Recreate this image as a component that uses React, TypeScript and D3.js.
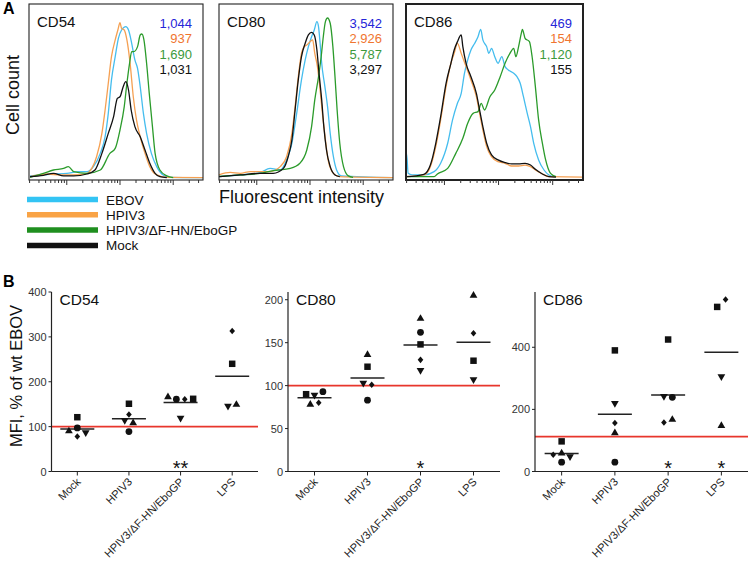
import React from "react";
import * as d3 from "d3";

// ---------- Panel A data: flow histograms, [log10 intensity, % of mode] ----------
const histMarkers = ["CD54", "CD80", "CD86"];
const histSeries = ["EBOV", "HPIV3", "HPIV3/ΔF-HN/EboGP", "Mock"];

const cd54EBOV = [[1.31,1.3],[1.50,1.9],[1.75,2.5],[2.00,2.9],[2.22,4.0],[2.38,4.0],[2.50,7.1],[2.63,15.4],[2.72,25.8],[2.78,40.4],[2.84,61.3],[2.91,75.8],[2.97,87.3],[3.03,92.5],[3.11,94.6],[3.16,92.5],[3.22,84.2],[3.28,73.8],[3.33,68.5],[3.38,57.1],[3.44,40.4],[3.50,27.9],[3.59,15.4],[3.69,7.1],[3.81,1.9],[3.94,0.4],[4.56,0.2]];
const cd54HPIV3 = [[1.31,0.8],[1.63,2.5],[1.88,1.9],[2.13,1.9],[2.38,2.9],[2.47,6.0],[2.56,13.3],[2.66,27.9],[2.72,42.5],[2.78,59.2],[2.84,75.8],[2.91,86.3],[2.96,92.5],[3.00,97.1],[3.03,93.5],[3.08,92.5],[3.13,86.3],[3.19,71.7],[3.25,50.8],[3.31,36.3],[3.38,25.8],[3.47,15.4],[3.56,7.1],[3.69,1.9],[3.88,0.4],[4.56,0.2]];
const cd54DeltaF = [[1.31,0.4],[1.56,2.9],[1.75,5.0],[1.94,6.0],[2.03,7.1],[2.13,4.0],[2.38,2.9],[2.63,5.0],[2.81,15.4],[2.91,18.5],[3.00,30.0],[3.08,44.6],[3.13,59.2],[3.18,71.7],[3.22,79.0],[3.26,79.0],[3.33,82.1],[3.38,89.4],[3.41,90.0],[3.45,86.3],[3.50,71.7],[3.55,52.9],[3.61,32.1],[3.66,15.4],[3.75,5.0],[3.88,1.3],[4.00,0.2]];
const cd54Mock = [[1.31,0.8],[1.56,1.7],[1.75,2.9],[1.94,1.3],[2.13,1.3],[2.38,2.5],[2.53,5.0],[2.66,15.4],[2.78,27.9],[2.88,38.3],[2.95,49.8],[3.00,50.8],[3.06,57.1],[3.11,60.2],[3.16,55.0],[3.21,42.5],[3.28,32.1],[3.38,25.8],[3.47,17.5],[3.56,9.2],[3.66,2.9],[3.75,0.8],[3.88,0.2]];

const cd80EBOV = [[1.29,0.8],[1.69,1.9],[2.06,3.3],[2.25,6.0],[2.44,5.0],[2.56,11.3],[2.66,21.7],[2.75,40.4],[2.84,61.3],[2.91,73.8],[2.97,82.1],[3.03,88.3],[3.08,92.5],[3.13,97.7],[3.16,94.6],[3.19,84.2],[3.22,71.7],[3.28,57.1],[3.33,44.6],[3.38,27.9],[3.44,13.3],[3.50,5.0],[3.59,1.3],[4.56,0.2]];
const cd80HPIV3 = [[1.29,2.0],[1.50,3.5],[1.69,2.9],[1.88,4.0],[2.06,4.0],[2.25,4.0],[2.44,7.1],[2.56,13.3],[2.66,27.9],[2.72,44.6],[2.78,63.3],[2.84,77.9],[2.89,82.1],[2.94,83.1],[3.00,85.2],[3.05,86.3],[3.09,77.9],[3.14,69.6],[3.19,55.0],[3.24,38.3],[3.29,23.8],[3.34,11.3],[3.44,2.9],[3.56,0.8],[4.56,0.2]];
const cd80DeltaF = [[1.29,1.0],[1.69,1.9],[2.06,2.9],[2.31,4.6],[2.63,6.0],[2.81,9.2],[2.94,17.5],[3.03,32.1],[3.09,48.8],[3.16,63.3],[3.21,75.8],[3.25,88.3],[3.29,97.7],[3.33,100],[3.38,96.7],[3.43,82.1],[3.47,63.3],[3.51,42.5],[3.56,21.7],[3.63,7.1],[3.72,1.3],[3.81,0.4]];
const cd80Mock = [[1.29,0.8],[1.69,1.9],[2.06,2.9],[2.31,2.9],[2.50,6.0],[2.59,13.3],[2.66,23.8],[2.72,42.5],[2.78,61.3],[2.84,75.8],[2.91,84.2],[2.97,89.4],[3.03,91.0],[3.08,89.4],[3.13,80.0],[3.17,65.4],[3.22,48.8],[3.26,32.1],[3.31,17.5],[3.38,7.1],[3.47,1.9],[3.56,0.8]];

const cd86EBOV = [[1.29,1.0],[1.30,15.4],[1.33,2.9],[1.40,1.9],[1.62,1.9],[1.81,4.0],[1.93,9.2],[2.06,21.7],[2.15,36.3],[2.24,46.7],[2.31,52.9],[2.37,65.4],[2.43,73.8],[2.49,80.0],[2.56,84.2],[2.62,88.3],[2.67,92.9],[2.71,86.3],[2.78,82.1],[2.82,77.9],[2.87,81.0],[2.93,75.8],[2.99,71.7],[3.06,75.8],[3.12,69.6],[3.18,67.5],[3.28,65.4],[3.34,63.3],[3.40,59.2],[3.46,50.8],[3.53,40.4],[3.59,32.1],[3.65,21.7],[3.74,11.3],[3.84,5.0],[3.93,1.9],[4.03,0.8]];
const cd86HPIV3 = [[1.29,0.8],[1.62,1.9],[1.74,7.1],[1.84,19.6],[1.93,36.3],[2.03,57.1],[2.12,71.7],[2.18,77.9],[2.24,84.2],[2.31,77.9],[2.40,69.6],[2.49,61.3],[2.59,50.8],[2.65,40.4],[2.71,30.0],[2.78,19.6],[2.87,13.3],[2.99,10.2],[3.12,9.2],[3.24,7.5],[3.37,7.5],[3.49,8.1],[3.59,7.1],[3.68,5.0],[3.81,2.5],[3.93,0.8],[4.56,0.6]];
const cd86DeltaF = [[1.29,0.8],[1.81,0.8],[1.87,2.5],[2.06,6.0],[2.21,15.4],[2.34,24.8],[2.43,34.2],[2.53,40.4],[2.62,41.5],[2.68,46.7],[2.74,42.5],[2.84,50.8],[2.93,55.0],[3.03,63.3],[3.12,71.7],[3.21,77.9],[3.28,81.0],[3.32,75.8],[3.37,82.1],[3.42,90.4],[3.44,92.9],[3.49,87.3],[3.57,85.2],[3.62,75.8],[3.68,57.1],[3.74,36.3],[3.81,21.7],[3.87,11.3],[3.96,2.9],[4.06,0.8]];
const cd86Mock = [[1.29,0.8],[1.62,2.3],[1.74,8.1],[1.84,21.7],[1.93,38.3],[2.03,59.2],[2.12,71.7],[2.18,80.0],[2.24,85.2],[2.31,89.4],[2.34,82.1],[2.40,71.7],[2.49,63.3],[2.59,52.9],[2.65,42.5],[2.71,32.1],[2.78,21.7],[2.87,14.4],[2.99,11.3],[3.12,9.6],[3.24,8.8],[3.37,8.8],[3.49,9.2],[3.59,8.1],[3.68,5.4],[3.81,2.5],[3.93,0.8],[4.06,0.6]];

const mfiCD54 = ["1,044", "937", "1,690", "1,031"];
const mfiCD80 = ["3,542", "2,926", "5,787", "3,297"];
const mfiCD86 = ["469", "154", "1,120", "155"];

// ---------- Panel B data: MFI, % of wt EBOV ----------
const groups = ["Mock", "HPIV3", "HPIV3/ΔF-HN/EboGP", "LPS"];
// [shape, value, jitter slot]
const cd54Points = [
  [["square",121,0],["triangle",90,-2],["circle",97,0],["diamond",78,0],["triangleDown",87,2]],
  [["square",151,0],["diamond",127,0],["triangleDown",114,-1],["triangle",108,1],["circle",89,0]],
  [["triangle",166,-3],["circle",161,-1],["diamond",161,1],["square",162,3],["triangleDown",119,0]],
  [["diamond",313,0],["square",240,0],["triangleDown",146,-1],["triangle",149,1]],
];
const cd80Points = [
  [["square",90,-2],["triangleDown",89,0],["circle",93,2],["triangle",78,-1],["diamond",80,1]],
  [["triangle",136,0],["square",122,0],["triangleDown",103,-1],["diamond",101,1],["circle",83,0]],
  [["triangle",178,0],["circle",162,0],["square",148,0],["diamond",130,0],["triangleDown",118,0]],
  [["triangle",205,0],["diamond",161,0],["square",129,0],["triangleDown",107,0]],
];
const cd86Points = [
  [["square",97,0],["diamond",54,-2],["triangle",59,0],["triangleDown",48,2],["circle",30,0]],
  [["square",390,0],["triangleDown",220,0],["diamond",156,0],["triangle",124,0],["circle",30,0]],
  [["square",425,0],["triangleDown",242,-1],["circle",239,1],["diamond",158,-1],["triangle",167,1]],
  [["square",530,-1],["diamond",554,1],["triangleDown",306,0],["triangle",147,0]],
];
const yMax = [400, 209, 578];
const yTicks54 = [0, 100, 200, 300, 400];
const yTicks80 = [0, 50, 100, 150, 200];
const yTicks86 = [0, 200, 400];
const refLevel = [100, 100, 112];
const sig54 = ["", "", "**", ""];
const sig80 = ["", "", "*", ""];
const sig86 = ["", "", "*", "*"];

const FONT = "'Liberation Sans', Arial, Helvetica, sans-serif";
const lineColors = ["#45bdee", "#f5a052", "#2b9b2b", "#111111"];
const numColors = ["#2525d8", "#f0752f", "#3c9a3c", "#111111"];
const legendColors = ["#33c4f4", "#f9a345", "#1f8f1f", "#111111"];

function HistPanel({ x0, x1, name, series, labels, stroke }: any) {
  const x = d3.scaleLog().domain([10 ** 1.29, 10 ** 4.56]).range([x0, x1]);
  const y = d3.scaleLinear().domain([0, 100]).range([178, 18]);
  const line = d3.line<number[]>().x((d) => x(10 ** d[0])).y((d) => y(d[1])).curve(d3.curveMonotoneX);
  const ticks: { v: number; major: boolean }[] = [];
  for (let k = 1; k <= 4; k++) for (let m = 1; m <= 9; m++) {
    const v = m * 10 ** k;
    if (v >= 10 ** 1.29 && v <= 10 ** 4.56) ticks.push({ v, major: m === 1 });
  }
  const yAxis = 180;
  return (
    <g>
      {series.map((s: number[][], i: number) => (
        <path key={i} d={line(s) || ""} fill="none" stroke={lineColors[i]} strokeWidth={1.3} />
      ))}
      <rect x={x0} y={4} width={x1 - x0} height={yAxis - 4} fill="none" stroke="#222" strokeWidth={stroke} />
      {ticks.map((t, i) => (
        <line key={i} x1={x(t.v)} x2={x(t.v)} y1={yAxis} y2={yAxis + (t.major ? 5 : 3)} stroke="#333" strokeWidth={1} />
      ))}
      <text x={x0 + 8} y={27} fontSize={15} fill="#111">{name}</text>
      {labels.map((l: string, i: number) => (
        <text key={i} x={x1 - 11} y={27.5 + i * 15.5} fontSize={13} textAnchor="end" fill={numColors[i]}>{l}</text>
      ))}
    </g>
  );
}

function symbolPath(shape: string) {
  if (shape === "square") return d3.symbol(d3.symbolSquare, 42)() || "";
  if (shape === "circle") return d3.symbol(d3.symbolCircle, 36)() || "";
  if (shape === "triangle") return d3.symbol(d3.symbolTriangle, 26)() || "";
  if (shape === "triangleDown") return d3.symbol(d3.symbolTriangle, 26)() || "";
  return "M0,-3.3L2.8,0L0,3.3L-2.8,0Z";
}

function ScatterPanel({ ax, end, name, points, max, ticks, ref0, sig }: any) {
  const yBottom = 471.5, yTop = 292;
  const y = d3.scaleLinear().domain([0, max]).range([yBottom, yTop]);
  const x = d3.scalePoint().domain(groups).range([ax, end]).padding(0.5);
  const jit = 4.2;
  return (
    <g>
      <line x1={ax} x2={end} y1={y(ref0)} y2={y(ref0)} stroke="#e8362c" strokeWidth={1.8} />
      <line x1={ax} x2={ax} y1={yTop} y2={yBottom} stroke="#222" strokeWidth={1.2} />
      <line x1={ax} x2={end} y1={yBottom} y2={yBottom} stroke="#222" strokeWidth={1.2} />
      {ticks.map((t: number) => (
        <g key={t}>
          <line x1={ax - 3} x2={ax} y1={y(t)} y2={y(t)} stroke="#222" />
          <text x={ax - 5} y={y(t) + 4} fontSize={11} textAnchor="end" fill="#333">{t}</text>
        </g>
      ))}
      {groups.map((g, gi) => {
        const cx = x(g) as number;
        const vals = points[gi];
        const mean = d3.mean(vals, (d: any) => d[1]) as number;
        return (
          <g key={g}>
            <line x1={cx} x2={cx} y1={yBottom} y2={yBottom + 4} stroke="#222" />
            <text transform={`translate(${cx + 4},${yBottom + 11}) rotate(-45)`} fontSize={11} textAnchor="end" fill="#222">{g}</text>
            <line x1={cx - 17} x2={cx + 17} y1={y(mean)} y2={y(mean)} stroke="#222" strokeWidth={1.5} />
            {vals.map((p: any, i: number) => (
              <path key={i} d={symbolPath(p[0])} fill="#111"
                transform={`translate(${cx + p[2] * jit},${y(p[1])})${p[0] === "triangleDown" ? " rotate(180)" : ""}`} />
            ))}
            {sig[gi] && (
              <text x={cx} y={yBottom + 3} fontSize={20} textAnchor="middle" fill="#111">{sig[gi]}</text>
            )}
          </g>
        );
      })}
      <text x={ax + 8} y={305} fontSize={15.5} fill="#111">{name}</text>
    </g>
  );
}

export default function App() {
  const hists = [
    [cd54EBOV, cd54HPIV3, cd54DeltaF, cd54Mock],
    [cd80EBOV, cd80HPIV3, cd80DeltaF, cd80Mock],
    [cd86EBOV, cd86HPIV3, cd86DeltaF, cd86Mock],
  ];
  const mfis = [mfiCD54, mfiCD80, mfiCD86];
  const boxes = [[29, 203, 1.1], [219, 393, 1.1], [406, 583, 2]];
  const scat = [
    { ax: 51.5, end: 258, points: cd54Points, ticks: yTicks54, sig: sig54 },
    { ax: 288, end: 500, points: cd80Points, ticks: yTicks80, sig: sig80 },
    { ax: 535, end: 748, points: cd86Points, ticks: yTicks86, sig: sig86 },
  ];
  return (
    <svg width={750} height={561} fontFamily={FONT}
      style={{ position: "absolute", left: 0, top: 0, background: "#fff" }}>
      <text x={3} y={14} fontSize={16} fontWeight="bold">A</text>
      <text x={3} y={287} fontSize={16} fontWeight="bold">B</text>
      <text transform="translate(19,95) rotate(-90)" fontSize={18} textAnchor="middle" fill="#111">Cell count</text>
      {histMarkers.map((m, i) => (
        <HistPanel key={m} x0={boxes[i][0]} x1={boxes[i][1]} stroke={boxes[i][2]} name={m} series={hists[i]} labels={mfis[i]} />
      ))}
      <text x={219} y={203} fontSize={18} fill="#111">Fluorescent intensity</text>
      {histSeries.map((s, i) => (
        <g key={s}>
          <line x1={27} x2={98} y1={199.5 + i * 15.3} y2={199.5 + i * 15.3} stroke={legendColors[i]} strokeWidth={5.5} />
          <text x={106} y={204.5 + i * 15.3} fontSize={13.5} fill="#111">{s}</text>
        </g>
      ))}
      <text transform="translate(22,376) rotate(-90)" fontSize={16.5} textAnchor="middle" fill="#111">MFI, % of wt EBOV</text>
      {histMarkers.map((m, i) => (
        <ScatterPanel key={m} name={m} ax={scat[i].ax} end={scat[i].end} points={scat[i].points}
          max={yMax[i]} ticks={scat[i].ticks} ref0={refLevel[i]} sig={scat[i].sig} />
      ))}
    </svg>
  );
}
